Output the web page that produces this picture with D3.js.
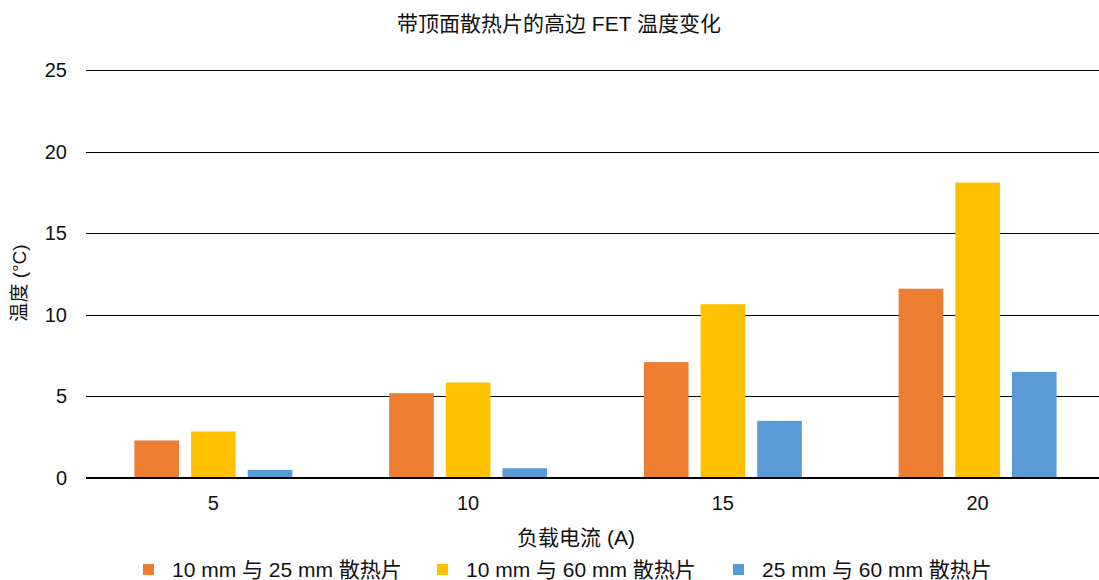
<!DOCTYPE html>
<html>
<head>
<meta charset="utf-8">
<script src="https://cdn.jsdelivr.net/npm/d3@7"></script>
<style>
  html, body { margin: 0; padding: 0; background: #fff; }
  svg { display: block; font-family: "Liberation Sans", "Noto Sans CJK SC", sans-serif; }
</style>
</head>
<body>
<svg id="chart" width="1099" height="580"></svg>
<script>
// Load current (A) categories
const categories = ["5", "10", "15", "20"];

// Temperature change (°C) for each heatsink pairing
const seriesNames = ["10 mm 与 25 mm 散热片", "10 mm 与 60 mm 散热片", "25 mm 与 60 mm 散热片"];
const s10vs25 = [2.3, 5.2, 7.1, 11.6];
const s10vs60 = [2.85, 5.85, 10.65, 18.1];
const s25vs60 = [0.5, 0.6, 3.5, 6.5];
const seriesColors = ["#ED7D31", "#FFC000", "#5B9BD5"];

const yTicks = [0, 5, 10, 15, 20, 25];

const title = "带顶面散热片的高边 FET 温度变化";
const xTitle = "负载电流 (A)";
const yTitle = "温度 (°C)";

const series = [s10vs25, s10vs60, s25vs60];

const svg = d3.select("#chart");
const margin = { left: 86, right: -6, top: 70, bottom: 102 };
const W = 1099, H = 580;
const FS = 21;

const x0 = d3.scaleBand()
  .domain(categories)
  .range([margin.left, W - margin.right])
  .paddingInner(0.38)
  .paddingOuter(0.19);

const x1 = d3.scaleBand()
  .domain(d3.range(series.length))
  .range([0, x0.bandwidth()])
  .paddingInner(0.212);

const y = d3.scaleLinear()
  .domain([0, 25])
  .range([H - margin.bottom, margin.top]);

// Title
svg.append("text")
  .attr("x", 559).attr("y", 24)
  .attr("dy", "0.35em")
  .attr("text-anchor", "middle")
  .attr("font-size", FS)
  .attr("fill", "#111")
  .text(title);

// Horizontal gridlines with tick labels
svg.append("g").selectAll("line")
  .data(yTicks.filter(d => d !== 0))
  .join("line")
  .attr("x1", margin.left).attr("x2", W)
  .attr("y1", d => Math.round(y(d)) + 0.5)
  .attr("y2", d => Math.round(y(d)) + 0.5)
  .attr("stroke", "#000")
  .attr("stroke-width", 1);

svg.append("g").selectAll("text")
  .data(yTicks)
  .join("text")
  .attr("x", 67)
  .attr("y", d => y(d))
  .attr("dy", "0.35em")
  .attr("text-anchor", "end")
  .attr("font-size", 20)
  .attr("fill", "#111")
  .text(d => d);

// Bars
const groups = svg.append("g").selectAll("g")
  .data(categories)
  .join("g")
  .attr("transform", d => `translate(${x0(d)},0)`);

groups.selectAll("rect")
  .data((c, i) => series.map((s, k) => ({ k, v: s[i] })))
  .join("rect")
  .attr("x", d => x1(d.k))
  .attr("width", x1.bandwidth())
  .attr("y", d => y(d.v))
  .attr("height", d => y(0) - y(d.v))
  .attr("fill", d => seriesColors[d.k]);

// Baseline
svg.append("line")
  .attr("x1", margin.left).attr("x2", W)
  .attr("y1", y(0)).attr("y2", y(0))
  .attr("stroke", "#000")
  .attr("stroke-width", 2.2);

// Category labels
svg.append("g").selectAll("text")
  .data(categories)
  .join("text")
  .attr("x", d => x0(d) + x0.bandwidth() / 2)
  .attr("y", 503)
  .attr("dy", "0.35em")
  .attr("text-anchor", "middle")
  .attr("font-size", 20)
  .attr("fill", "#111")
  .text(d => d);

// Axis titles
svg.append("text")
  .attr("x", 576).attr("y", 538)
  .attr("dy", "0.35em")
  .attr("text-anchor", "middle")
  .attr("font-size", FS)
  .attr("fill", "#111")
  .text(xTitle);

svg.append("text")
  .attr("transform", "translate(19,283) rotate(-90)")
  .attr("dy", "0.35em")
  .attr("text-anchor", "middle")
  .attr("font-size", 19)
  .attr("fill", "#111")
  .text(yTitle);

// Legend
const legendX = [143, 437, 733];
const legend = svg.append("g").selectAll("g")
  .data(seriesNames)
  .join("g")
  .attr("transform", (d, i) => `translate(${legendX[i]},564)`);
legend.append("rect")
  .attr("width", 11).attr("height", 11)
  .attr("fill", (d, i) => seriesColors[i]);
legend.append("text")
  .attr("x", 29).attr("y", 6)
  .attr("dy", "0.35em")
  .attr("font-size", FS)
  .attr("fill", "#111")
  .text(d => d);
</script>
</body>
</html>
